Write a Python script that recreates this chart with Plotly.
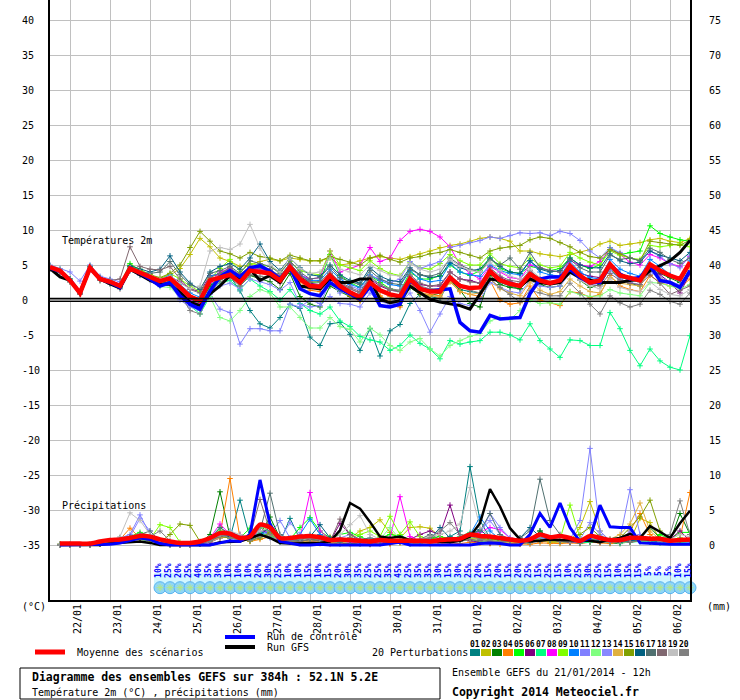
import plotly.graph_objects as go

# time axis: 6-hourly steps from 21/01/2014 12h up to +384h
steps = list(range(65))
rain_steps = list(range(1, 65))
date_steps = list(range(2, 64, 4))
date_labels = ["22/01", "23/01", "24/01", "25/01", "26/01", "27/01", "28/01", "29/01",
               "30/01", "31/01", "01/02", "02/02", "03/02", "04/02", "05/02", "06/02"]

# temperature 2m (C)
t_mean = [4.7, 4.2, 2.8, 1.0, 4.6, 3.0, 2.6, 2.0, 4.5, 3.9,
          3.3, 2.7, 3.1, 1.8, 0.5, -0.1, 2.8, 3.2, 3.6, 2.5,
          4.2, 4.0, 3.8, 2.8, 4.7, 3.0, 2.0, 1.9, 3.5, 2.0,
          1.1, 0.4, 2.5, 1.4, 0.8, 0.5, 3.0, 1.6, 1.2, 1.2,
          3.2, 2.0, 1.7, 1.8, 4.1, 2.8, 2.3, 2.0, 3.7, 2.8,
          2.4, 2.8, 4.9, 3.5, 2.5, 2.8, 5.1, 3.5, 3.1, 2.8,
          5.1, 4.2, 3.5, 3.0, 5.4]
t_control = [4.6, 4.1, 2.9, 1.0, 4.6, 3.0, 2.5, 1.8, 4.6, 3.8,
             3.0, 2.0, 2.5, 0.6, -0.6, -1.3, 1.3, 3.3, 4.2, 3.3,
             4.6, 4.9, 4.1, 3.0, 4.6, 1.6, 0.9, 0.6, 2.5, 1.6,
             0.9, 0.1, 1.9, -0.8, -1.0, -0.6, 2.8, 1.6, 1.3, 1.4,
             1.6, -3.2, -4.4, -4.6, -2.2, -2.7, -2.6, -2.5, 0.9, 3.0,
             3.3, 3.3, 4.4, 3.2, 2.5, 2.5, 5.1, 3.7, 3.0, 3.2,
             4.9, 2.8, 2.5, 1.8, 4.2]
t_gfs = [4.5, 3.3, 2.8, 1.0, 4.5, 3.0, 2.3, 1.7, 4.4, 3.6,
         2.8, 2.2, 2.3, 1.1, -0.3, -0.8, 0.9, 2.0, 3.5, 3.0,
         4.4, 2.8, 3.5, 2.5, 4.5, 2.0, 1.8, 1.6, 3.0, 2.5,
         2.5, 3.0, 3.0, 0.1, -0.4, -0.1, 2.0, 1.1, 0.1, -0.3,
         -0.6, -0.8, -1.3, 0.9, 3.0, 2.8, 2.3, 2.0, 3.0, 2.5,
         2.3, 2.5, 4.0, 3.2, 2.8, 2.5, 2.5, 2.5, 2.8, 3.0,
         4.2, 4.9, 5.6, 6.8, 8.5]

t01 = [4.6, 4.1, 2.6, 0.9, 4.5, 2.9, 2.4, 1.8, 4.4, 3.7, 3.1, 2.9, 3.4, 1.5, 0.2, -0.6, 2.2, 3.0, 3.4, 1.3,
       -1.5, -3.4, -4.0, -2.5, -0.6, -1.2, -5.3, -6.5, -3.4, -3.2, -4.9, -7.2, -4.1, -8.0, -4.4, -3.5, -0.5, 0.8, 0.5, 0.2,
       2.8, 1.5, 1.2, 1.0, 3.8, 2.5, 2.0, 1.6, 3.5, 2.5, 2.2, 2.6, 4.6, 3.2, 2.3, 2.5, 4.8, 3.3, 2.8, 2.6,
       4.9, 4.0, 3.3, 2.8, 5.0]
t02 = [4.8, 4.3, 2.9, 1.1, 4.7, 3.1, 2.7, 2.1, 4.8, 4.2, 3.6, 3.0, 3.5, 4.5, 6.5, 8.8, 7.6, 6.0, 5.5, 4.8,
       5.0, 5.5, 5.8, 5.6, 6.0, 5.8, 5.6, 5.6, 6.0, 5.0, 5.2, 5.6, 6.0, 6.2, 6.0, 5.8, 6.2, 6.6, 7.0, 7.5,
       7.8, 8.0, 8.4, 8.8, 9.0, 8.8, 8.4, 7.0, 7.0, 6.6, 6.4, 6.2, 6.5, 6.8, 7.2, 8.0, 8.4, 7.8, 8.0, 8.2,
       8.6, 8.8, 8.4, 8.2, 8.8]
t03 = [4.5, 4.0, 2.7, 0.9, 4.5, 2.8, 2.4, 1.8, 4.8, 4.0, 3.2, 2.4, 2.6, 1.0, 0.0, -0.4, 2.0, 3.0, 3.8, 2.0,
       3.5, 3.0, 2.6, 1.5, 3.8, 0.5, -0.6, -1.0, 2.0, 1.2, 0.5, 0.0, 2.0, 0.4, -0.4, -0.8, 1.8, 0.8, 0.6, 1.0,
       2.8, 1.4, -0.5, -1.0, 3.5, 2.2, 1.8, 1.6, 3.0, 2.2, 1.8, 2.0, 4.2, 2.8, 1.8, 2.2, 4.5, 3.0, 2.4, 2.0,
       4.8, 3.8, 3.2, 2.5, 5.0]
t04 = [4.4, 3.9, 2.6, 0.8, 4.4, 2.8, 2.3, 1.6, 4.3, 3.6, 3.0, 2.5, 2.9, 1.6, 0.4, 0.2, 2.5, 3.2, 4.0, 2.8,
       4.4, 4.2, 4.0, 2.6, 4.4, 2.6, 1.4, 1.2, 3.2, 1.8, 0.6, -0.2, 2.0, 0.6, -0.3, -1.0, 2.4, 1.0, 0.8, 0.6,
       2.6, 1.2, 0.8, 0.5, 2.8, 0.0, -0.6, -0.4, 2.0, 0.0, -0.4, -0.8, 1.2, 1.0, 0.4, 0.8, 3.5, 2.0, 1.5, 1.2,
       3.5, 2.5, 2.0, 1.8, 3.0]
t05 = [4.9, 4.4, 3.0, 1.2, 4.8, 3.2, 2.8, 2.2, 5.2, 4.2, 3.5, 2.8, 3.0, 1.4, 0.0, -0.5, 1.5, 3.8, 4.5, 3.0,
       4.6, 4.4, 4.0, 3.2, 5.0, 3.4, 2.5, 2.6, 6.5, 3.5, 2.5, 1.8, 3.5, 2.5, 1.6, 1.2, 4.0, 3.0, 3.0, 3.5,
       5.0, 4.0, 3.5, 4.2, 6.0, 4.5, 4.0, 3.8, 4.8, 4.5, 4.2, 4.5, 6.0, 5.0, 4.5, 5.0, 7.5, 6.5, 6.8, 7.0,
       10.6, 9.5, 9.0, 8.6, 8.4]
t06 = [4.6, 4.2, 2.8, 1.0, 4.5, 3.0, 2.5, 1.9, 4.6, 4.0, 3.4, 2.9, 3.3, 2.6, 1.6, 1.2, 3.5, 3.6, 4.0, 3.2,
       4.5, 4.4, 4.2, 3.0, 5.0, 3.4, 2.4, 2.2, 3.8, 2.4, 1.6, 1.0, 3.0, 2.0, 1.4, 1.2, 3.4, 2.2, 2.0, 2.0,
       4.0, 3.0, 2.8, 2.4, 4.2, 3.2, 2.6, 2.2, 4.0, 3.0, 2.6, 2.6, 4.6, 3.8, 3.4, 3.2, 5.0, 3.5, 3.0, 2.8,
       4.6, 3.6, 2.5, 1.0, 3.8]
t07 = [4.5, 4.1, 2.7, 0.9, 4.4, 2.9, 2.4, 1.7, 4.2, 3.6, 3.0, 2.3, 2.6, 1.2, -0.8, -2.0, 0.5, 2.4, 2.8, 1.5,
       3.0, 2.0, 1.2, 0.0, 1.5, -0.5, -1.5, -2.0, -1.0, -3.0, -3.8, -5.2, -5.7, -6.0, -7.2, -6.5, -5.0, -6.2, -7.0, -8.4,
       -5.8, -6.3, -6.0, -5.8, -4.6, -4.6, -5.0, -5.7, -3.4, -5.8, -7.0, -8.2, -5.7, -5.8, -6.5, -6.5, -1.8, -4.1, -7.2, -9.4,
       -7.0, -8.7, -9.6, -10.0, -5.1]
t08 = [4.8, 4.2, 2.8, 1.1, 4.6, 3.2, 2.8, 2.3, 4.4, 3.8, 3.2, 2.6, 3.0, 1.6, 0.0, -0.6, 2.5, 4.0, 4.5, 3.4,
       4.6, 4.3, 4.1, 3.5, 5.0, 3.6, 3.0, 3.2, 7.0, 4.0, 4.5, 5.0, 7.5, 5.5, 6.0, 8.5, 9.8, 10.1, 9.8, 9.0,
       7.6, 5.0, 3.8, 3.0, 4.8, 4.0, 3.2, 3.0, 5.0, 4.6, 4.2, 4.0, 5.6, 5.0, 4.8, 5.5, 7.2, 6.5, 5.4, 5.0,
       6.5, 6.0, 5.2, 4.8, 6.2]
t09 = [4.7, 4.3, 2.9, 1.1, 4.8, 3.1, 2.8, 2.2, 5.0, 4.4, 3.6, 3.0, 3.8, 3.0, 2.0, 1.2, 3.0, 4.5, 5.8, 4.0,
       5.2, 5.0, 4.8, 4.0, 5.5, 4.2, 3.8, 3.6, 7.0, 5.0, 4.6, 4.2, 5.6, 4.5, 3.8, 3.5, 5.4, 4.6, 4.4, 5.2,
       6.5, 5.6, 5.0, 5.0, 6.6, 5.2, 4.8, 4.6, 6.0, 5.0, 4.6, 4.8, 6.8, 6.0, 5.4, 5.0, 7.0, 6.4, 6.0, 5.8,
       7.8, 7.6, 7.8, 8.0, 7.6]
t10 = [4.6, 4.2, 2.9, 1.0, 4.7, 3.1, 2.7, 2.1, 4.7, 4.0, 3.4, 2.9, 3.6, 2.2, 1.0, 0.4, 3.4, 3.8, 4.2, 3.0,
       4.8, 4.6, 4.3, 3.4, 5.2, 3.6, 2.8, 2.8, 4.4, 3.0, 2.2, 1.8, 3.6, 2.8, 2.2, 2.0, 4.2, 3.0, 2.6, 2.8,
       5.2, 4.0, 3.6, 3.4, 5.0, 4.2, 3.8, 3.6, 5.6, 4.0, 3.6, 3.4, 5.5, 4.0, 3.2, 3.0, 5.8, 4.4, 3.8, 3.4,
       5.8, 4.8, 3.6, 2.8, 5.6]
t11 = [5.0, 4.5, 4.0, 2.7, 5.0, 3.4, 3.0, 2.6, 4.2, 3.8, 3.0, 2.2, 2.4, 0.6, -0.8, -1.0, 0.8, -1.3, -1.8, -6.3,
       -4.1, -4.1, -4.4, -4.4, -0.6, -1.0, 0.0, -0.5, 2.5, 1.0, 2.0, 1.5, 3.5, 3.0, 2.5, 3.0, 5.5, 4.5, 5.0, 5.5,
       7.5, 7.8, 8.2, 8.5, 9.0, 8.8, 9.2, 9.6, 9.5, 9.6, 9.2, 9.8, 9.5, 8.5, 7.0, 6.0, 7.5, 6.8, 6.0, 5.6,
       7.0, 6.2, 5.2, 4.6, 6.4]
t12 = [4.5, 4.0, 2.6, 0.8, 4.4, 2.8, 2.3, 1.7, 4.3, 3.6, 2.9, 1.9, 1.8, 0.4, -0.5, -1.5, 0.5, -2.5, -3.0, -1.5,
       0.5, 1.5, 1.0, -1.0, -1.0, -2.5, -4.0, -4.0, -2.5, -3.8, -4.2, -6.0, -4.0, -5.0, -6.5, -7.2, -6.0, -5.5, -7.0, -8.0,
       -6.5, -5.8, -5.2, -4.8, -3.0, -2.5, -2.8, -1.5, 0.0, -0.5, -0.4, -0.6, 1.2, 0.8, 0.5, 0.6, 1.5, 1.0, 0.8, 0.6,
       2.5, 2.4, 2.0, 1.6, 2.2]
t13 = [4.4, 4.0, 2.6, 0.8, 4.3, 2.8, 2.3, 1.6, 4.2, 3.5, 2.8, 2.0, 2.4, 0.0, -1.0, -1.5, 1.0, 2.0, 2.4, 1.6,
       3.0, 2.6, 2.2, 1.4, 2.5, -0.6, -1.0, -0.8, 0.5, -0.5, -0.6, -1.0, 1.0, -0.2, -0.6, -0.3, 1.0, -1.5, -4.6, -2.0,
       0.5, -0.5, -0.8, 0.0, 2.5, 1.8, 1.2, 1.0, 2.8, 2.0, 1.8, 2.0, 3.8, 3.0, 2.4, 2.6, 4.2, 3.0, 2.5, 2.2,
       4.0, 3.2, 2.6, 2.2, 4.2]
t14 = [4.6, 4.1, 2.8, 1.0, 4.5, 2.9, 2.5, 1.9, 4.4, 3.8, 3.2, 2.6, 3.0, 1.8, 0.6, 0.2, 3.0, 3.4, 3.8, 2.8,
       4.4, 4.1, 3.9, 2.9, 4.8, 3.1, 2.0, 2.0, 3.6, 2.0, 1.0, 0.2, 2.6, 1.2, 0.5, -0.4, 2.8, 1.2, 0.6, 0.4,
       2.6, 1.2, 0.8, 1.0, 3.0, 1.6, 1.0, 0.6, 2.6, 1.4, 0.8, 1.2, 3.0, 2.0, 1.2, 1.0, 3.2, 2.4, 2.2, 2.0,
       4.4, 3.0, 2.4, 2.0, 4.6]
t15 = [4.7, 4.2, 2.9, 1.1, 4.7, 3.1, 2.6, 2.0, 4.8, 4.2, 3.6, 3.2, 3.8, 5.0, 7.5, 9.8, 8.4, 7.0, 6.6, 6.0,
       6.8, 6.2, 6.0, 5.6, 6.4, 6.0, 5.6, 5.6, 6.2, 5.8, 5.4, 5.0, 6.0, 6.4, 5.8, 5.4, 6.0, 6.2, 6.6, 6.8,
       7.2, 6.8, 6.4, 6.0, 7.0, 7.4, 7.6, 7.8, 8.6, 9.0, 8.8, 8.2, 7.6, 6.8, 6.2, 6.0, 7.2, 6.6, 6.0, 5.6,
       8.4, 8.2, 8.0, 7.8, 8.6]
t16 = [4.8, 4.3, 3.0, 1.1, 4.8, 3.2, 2.8, 2.2, 4.9, 4.4, 4.0, 4.4, 6.3, 4.0, 2.4, 1.5, 4.0, 4.8, 5.2, 4.4,
       6.0, 8.0, 5.5, 4.2, 6.0, 4.6, 3.6, 3.4, 5.0, 3.6, 2.8, 2.4, 4.6, 3.4, 2.8, 2.6, 4.6, 3.6, 3.2, 3.4,
       5.4, 4.6, 4.2, 4.4, 6.0, 4.8, 4.0, 3.8, 5.6, 4.4, 4.0, 4.2, 6.0, 5.0, 4.6, 4.6, 6.6, 5.6, 5.2, 5.4,
       7.0, 6.4, 6.0, 5.6, 6.8]
t17 = [4.6, 4.2, 2.8, 1.0, 4.6, 3.0, 2.6, 2.0, 4.6, 4.0, 3.8, 4.0, 5.5, 3.6, 2.2, 1.6, 3.8, 4.2, 4.8, 3.8,
       5.6, 5.2, 4.8, 3.8, 5.6, 4.0, 3.0, 3.2, 4.8, 3.2, 2.6, 2.2, 4.2, 3.0, 2.4, 2.2, 4.4, 3.6, 3.4, 3.8,
       6.0, 5.0, 4.4, 4.0, 5.8, 5.0, 6.0, 4.4, 6.8, 4.6, 4.2, 4.0, 5.8, 4.6, 4.0, 4.0, 6.4, 5.8, 6.0, 5.6,
       7.4, 6.8, 5.8, 5.2, 6.0]
t18 = [4.7, 4.2, 2.8, 1.0, 4.6, 3.0, 2.8, 3.0, 7.6, 4.8, 4.4, 4.3, 4.8, 3.0, 1.5, 1.0, 3.2, 3.8, 4.6, 3.6,
       4.8, 4.6, 4.4, 3.4, 5.2, 3.6, 2.6, 2.6, 4.0, 2.6, 1.8, 1.2, 3.2, 2.2, 1.4, 1.2, 3.6, 2.4, 2.0, 2.2,
       4.0, 3.0, 2.6, 2.4, 4.6, 3.4, 2.8, 2.6, 4.2, 3.0, 2.6, 2.8, 4.4, 3.0, 2.2, 2.0, 3.8, 2.8, 2.4, 2.2,
       3.6, 2.4, 0.8, 1.4, 2.0]
t19 = [4.8, 4.3, 2.9, 1.1, 4.7, 3.1, 2.7, 2.1, 4.6, 4.0, 3.5, 3.0, 3.4, 2.4, 1.6, 2.0, 7.0, 7.5, 7.2, 8.0,
       10.8, 7.4, 5.0, 4.0, 6.0, 4.5, 3.8, 4.0, 6.0, 4.4, 4.0, 3.6, 5.0, 4.2, 3.6, 3.4, 5.2, 4.4, 4.0, 4.4,
       5.8, 4.8, 4.2, 4.0, 5.4, 4.2, 3.4, 3.0, 4.4, 3.2, 2.8, 2.6, 4.0, 2.8, 2.0, 1.6, 3.0, 1.8, 1.4, 1.2,
       2.6, 1.5, 0.8, 0.6, 1.5]
t20 = [4.5, 4.0, 2.6, 0.8, 4.4, 2.8, 2.4, 1.8, 4.3, 3.6, 3.0, 2.2, 2.2, 0.8, -1.5, -2.0, 1.2, 2.6, 3.2, 2.0,
       3.6, 3.4, 3.2, 2.4, 4.4, 3.0, 2.2, 2.2, 3.8, 2.4, 1.6, 1.0, 3.4, 2.2, 1.6, 1.4, 3.4, 2.0, 1.6, 1.6,
       3.4, 2.0, 1.4, 1.0, 3.0, 1.8, 0.8, -0.3, 1.4, 1.0, 0.6, 0.6, 2.4, 1.0, -0.6, -2.0, 0.6, -0.4, -1.0, -0.6,
       1.4, 0.8, -0.2, -0.6, 1.0]

# precipitation per 6h (mm)
r_mean = [0.2, 0.2, 0.2, 0.2, 0.5, 0.7, 0.8, 1.0, 1.3, 1.2, 0.8, 0.5, 0.3, 0.3, 0.5, 1.0, 1.7, 1.6, 1.0, 1.2,
          2.9, 2.5, 1.0, 1.0, 1.2, 1.3, 1.1, 0.7, 0.8, 0.7, 0.6, 0.5, 0.7, 0.6, 0.6, 0.6, 0.6, 0.5, 0.7, 0.8,
          0.9, 1.5, 1.3, 1.2, 1.0, 0.8, 0.6, 0.8, 1.5, 1.1, 1.3, 1.0, 0.6, 1.3, 1.0, 0.7, 0.7, 1.0, 1.0, 0.9,
          0.9, 0.6, 0.7, 0.8]
r_control = [0, 0, 0, 0, 0, 0.1, 0.3, 0.6, 1.0, 0.8, 0.2, 0, 0, 0, 0, 0, 0.3, 0.6, 0.5, 1.5,
             9.3, 3.0, 0.5, 0.2, 0, 0, 0.1, 0, 0, 0, 0, 0, 0, 0.2, 0.4, 0, 0, 0, 0, 0,
             0, 0, 0.2, 0.3, 0.2, 0, 0, 1.5, 4.5, 2.5, 6.0, 2.5, 0.5, 1.0, 5.7, 2.6, 2.5, 2.5, 0.3, 0.2,
             0.2, 0.1, 0.1, 0.1]
r_gfs = [0, 0, 0, 0, 0, 0.2, 0.3, 0.3, 0.5, 0.3, 0, 0, 0, 0, 0, 0, 0.4, 0.5, 0.5, 1.0,
         1.5, 1.0, 0.3, 0.2, 0.2, 0.3, 0.3, 0.5, 2.1, 6.0, 5.2, 3.3, 1.2, 1.0, 1.2, 0.7, 0.6, 0.5, 0.4, 0.4,
         0.6, 1.2, 3.1, 8.0, 5.5, 2.4, 0.8, 0.5, 0.6, 0.8, 0.7, 0.7, 0.6, 0.6, 0.4, 0.8, 1.0, 1.6, 1.0, 2.7,
         1.9, 1.0, 3.1, 4.9]

r01 = [0.1, 0.1, 0, 0, 0.2, 0.4, 0.6, 0.8, 1.4, 1.0, 0.3, 0, 0, 0, 0.2, 0.6, 1.5, 1.0, 6.4, 1.0,
       2.0, 1.5, 0.4, 3.8, 0.8, 0.5, 0.6, 0.4, 0.2, 0.3, 0.2, 0.1, 0.3, 0.5, 0.4, 0.2, 0.3, 0.4, 0.8, 1.2,
       2.0, 11.2, 3.5, 1.0, 0.6, 0.4, 0.2, 0.3, 2.0, 0.8, 0.6, 0.4, 0.3, 0.5, 0.8, 0.6, 0.3, 0.8, 0.5, 0.4,
       0.3, 0.5, 0.6, 0.4]
r02 = [0, 0, 0, 0.1, 0.3, 0.5, 0.7, 1.0, 1.5, 1.2, 0.6, 0.2, 0, 0, 0.3, 0.8, 1.2, 1.5, 1.0, 0.8,
       2.5, 2.0, 1.0, 0.6, 0.8, 1.0, 1.5, 1.2, 0.8, 1.0, 2.0, 2.5, 3.6, 1.8, 1.0, 2.5, 2.6, 2.4, 1.2, 0.8,
       0.6, 1.5, 1.0, 0.5, 0.4, 0.3, 0.2, 0.5, 0.6, 0.4, 0.3, 0.5, 2.5, 6.2, 2.0, 0.5, 0.4, 0.6, 3.8, 3.2,
       0.8, 0.5, 0.4, 0.3]
r03 = [0.1, 0, 0, 0, 0.2, 0.5, 0.8, 1.0, 1.2, 0.8, 0.4, 0.1, 0, 0, 0.2, 1.5, 7.6, 1.2, 0.8, 0.6,
       1.5, 4.0, 1.0, 0.5, 0.4, 0.6, 0.5, 0.3, 0.2, 0.3, 0.2, 0.1, 0.2, 0.3, 0.4, 0.2, 0.6, 0.8, 0.5, 0.4,
       0.6, 0.8, 0.5, 0.3, 0.4, 0.6, 0.3, 0.5, 2.0, 1.0, 0.6, 0.4, 0.3, 0.4, 0.5, 0.3, 0.2, 0.8, 1.2, 2.5,
       1.0, 0.6, 4.5, 1.5]
r04 = [0.1, 0, 0, 0, 0.2, 0.4, 0.8, 2.4, 1.0, 0.6, 0.3, 0.1, 0, 0, 0.2, 0.6, 1.5, 9.5, 1.0, 0.5,
       0.8, 1.2, 0.6, 0.4, 0.2, 0.3, 0.2, 0.1, 0.2, 0.1, 0.2, 0.1, 0.2, 0.1, 0.3, 0.2, 0.2, 0.1, 0.2, 0.3,
       0.2, 0.4, 0.3, 0.2, 0.1, 0.2, 0.1, 0.1, 0.3, 0.2, 0.2, 0.3, 0.2, 0.4, 0.3, 0.2, 0.5, 2.0, 4.5, 1.5,
       0.6, 0.4, 1.0, 7.5]
r05 = [0, 0, 0, 0, 0.3, 0.6, 1.0, 1.2, 1.8, 1.3, 0.5, 0.2, 0, 0, 0.3, 0.8, 2.0, 1.2, 1.0, 2.4,
       1.5, 3.0, 1.2, 0.8, 2.5, 3.9, 2.0, 1.0, 1.5, 1.8, 1.2, 0.6, 1.0, 1.5, 1.2, 0.8, 0.6, 1.0, 1.2, 0.9,
       0.6, 0.8, 1.2, 1.0, 0.8, 0.6, 0.8, 0.5, 0.6, 0.8, 0.5, 0.4, 0.6, 0.8, 0.5, 0.6, 0.4, 0.5, 0.8, 0.6,
       1.5, 0.8, 1.8, 1.8]
r06 = [0, 0, 0, 0, 0.2, 0.4, 0.6, 0.8, 1.0, 0.8, 0.3, 0.1, 0, 0, 0.2, 0.4, 1.0, 1.2, 1.5, 1.0,
       2.5, 1.5, 0.6, 0.4, 0.5, 0.6, 0.4, 0.5, 3.1, 1.5, 0.6, 0.4, 0.5, 0.3, 0.4, 0.8, 1.5, 2.0, 1.5, 5.7,
       1.0, 0.6, 0.4, 0.3, 0.5, 0.4, 0.3, 0.4, 1.2, 0.8, 0.5, 0.4, 0.3, 0.6, 0.5, 0.4, 0.3, 0.4, 0.6, 0.5,
       0.4, 0.8, 2.0, 0.6]
r07 = [0, 0, 0, 0, 0.2, 0.5, 0.8, 1.0, 0.8, 0.6, 0.3, 0.1, 0, 0, 0.2, 1.0, 2.5, 1.5, 1.0, 0.8,
       1.8, 1.2, 0.8, 0.6, 1.2, 1.5, 0.8, 0.6, 0.5, 0.4, 0.3, 0.2, 0.5, 0.8, 1.5, 0.6, 0.4, 0.5, 0.6, 0.8,
       1.2, 1.8, 1.2, 0.6, 0.4, 0.8, 0.6, 0.4, 1.0, 0.6, 0.8, 0.5, 0.3, 0.4, 0.6, 0.5, 0.3, 0.4, 0.5, 0.4,
       0.6, 0.5, 0.4, 0.3]
r08 = [0, 0, 0, 0, 0.2, 0.6, 0.8, 1.0, 1.2, 0.9, 0.4, 0.1, 0, 0, 0.3, 1.0, 3.0, 1.5, 1.2, 1.0,
       2.0, 1.8, 1.0, 0.6, 1.0, 7.5, 2.0, 0.8, 0.5, 0.4, 0.3, 0.2, 0.4, 1.0, 6.9, 1.2, 0.6, 0.5, 0.4, 0.6,
       0.8, 1.2, 1.8, 2.5, 2.2, 1.0, 0.8, 0.6, 1.2, 0.8, 0.6, 0.5, 0.4, 0.6, 0.5, 0.4, 0.6, 1.5, 1.2, 0.8,
       0.5, 0.6, 0.8, 0.5]
r09 = [0, 0, 0, 0, 0.3, 0.6, 1.0, 1.2, 1.0, 0.8, 2.9, 2.5, 0.4, 0, 0.3, 0.8, 1.5, 1.0, 0.8, 0.6,
       1.2, 1.5, 1.0, 0.6, 0.8, 1.2, 0.8, 0.6, 0.8, 1.0, 1.5, 2.0, 1.2, 4.1, 1.5, 3.3, 1.2, 0.8, 0.6, 0.8,
       0.6, 1.0, 0.8, 0.6, 0.5, 0.6, 0.4, 0.6, 0.8, 0.6, 0.8, 5.7, 1.0, 0.6, 0.5, 0.4, 0.6, 0.5, 0.8, 0.6,
       0.5, 0.6, 1.0, 0.8]
r10 = [0, 0, 0, 0, 0.2, 0.5, 0.7, 0.9, 1.2, 1.5, 0.6, 0.2, 0, 0, 0.2, 0.6, 1.5, 2.0, 1.2, 0.8,
       1.5, 2.0, 0.8, 0.6, 1.5, 3.7, 1.5, 0.8, 0.6, 0.5, 0.4, 0.3, 0.6, 0.8, 0.6, 0.5, 0.4, 0.6, 0.5, 0.8,
       1.0, 1.5, 4.0, 2.0, 0.8, 0.6, 0.5, 0.8, 1.5, 1.0, 0.6, 0.8, 0.5, 0.6, 0.8, 0.5, 0.4, 0.6, 0.8, 0.6,
       0.5, 0.4, 0.6, 0.5]
r11 = [0, 0, 0, 0, 0.3, 0.6, 1.0, 1.5, 4.3, 1.5, 0.6, 0.2, 0, 0, 0.2, 0.8, 1.5, 1.2, 1.0, 1.5,
       2.0, 1.5, 3.5, 1.0, 0.8, 1.5, 1.0, 0.6, 0.8, 1.0, 0.6, 0.4, 0.8, 0.6, 0.5, 0.4, 0.6, 0.8, 0.6, 0.5,
       0.8, 1.2, 1.5, 4.5, 2.5, 1.0, 0.8, 0.6, 1.0, 0.8, 1.2, 0.8, 3.5, 13.8, 2.0, 0.6, 1.0, 7.9, 1.5, 0.8,
       0.5, 0.6, 0.8, 0.5]
r12 = [0, 0, 0, 0, 0.2, 0.4, 0.8, 1.0, 1.2, 1.0, 0.4, 0.1, 0, 0, 0.2, 0.6, 1.2, 1.0, 0.8, 1.2,
       2.5, 1.8, 0.8, 0.6, 0.5, 0.8, 0.6, 0.4, 0.5, 0.6, 0.4, 0.3, 0.8, 2.5, 0.8, 0.5, 0.4, 0.6, 0.5, 0.4,
       0.6, 0.8, 0.6, 0.4, 0.5, 0.4, 0.3, 0.5, 0.8, 0.6, 0.4, 0.5, 0.6, 0.8, 0.5, 0.4, 0.3, 0.4, 0.6, 0.5,
       0.4, 0.6, 0.5, 0.4]
r13 = [0, 0, 0, 0, 0.3, 0.5, 0.8, 1.2, 3.8, 2.0, 0.5, 0.1, 0, 0, 0.2, 0.5, 1.0, 1.5, 1.0, 0.8,
       1.5, 1.0, 0.8, 3.2, 1.5, 1.0, 0.8, 0.6, 1.0, 1.5, 0.8, 0.5, 0.6, 0.5, 0.4, 0.3, 0.5, 0.6, 0.8, 0.6,
       1.0, 1.5, 2.0, 3.5, 1.5, 0.8, 0.6, 0.5, 0.8, 0.6, 0.5, 0.6, 0.8, 3.2, 1.5, 0.6, 0.5, 2.0, 1.0, 0.6,
       0.5, 0.4, 0.5, 0.4]
r14 = [0, 0, 0, 0, 0.2, 0.4, 0.6, 0.8, 1.0, 0.8, 0.3, 0.1, 0, 0, 0.2, 0.5, 1.0, 1.2, 0.8, 0.6,
       1.2, 1.5, 0.6, 0.5, 0.4, 0.6, 0.5, 0.4, 0.3, 0.5, 0.4, 0.3, 0.5, 0.4, 0.3, 0.5, 0.4, 0.3, 0.4, 0.5,
       0.6, 0.8, 1.0, 0.6, 0.5, 0.4, 0.3, 0.5, 0.6, 0.5, 0.4, 0.5, 0.6, 0.8, 0.6, 0.8, 1.5, 3.0, 6.0, 2.0,
       0.8, 0.6, 0.5, 0.6]
r15 = [0, 0, 0, 0, 0.2, 0.5, 0.8, 1.0, 0.8, 0.6, 0.4, 1.5, 3.0, 2.8, 0.5, 0.8, 1.2, 1.0, 0.8, 0.6,
       1.0, 1.8, 0.8, 0.6, 0.5, 0.8, 0.6, 0.5, 0.6, 0.8, 0.5, 0.4, 0.6, 0.8, 0.6, 0.5, 0.8, 1.0, 0.8, 0.6,
       0.8, 1.5, 1.0, 0.8, 0.6, 0.5, 0.4, 0.6, 0.8, 0.6, 0.5, 0.6, 1.5, 2.5, 1.2, 0.8, 1.0, 2.5, 4.0, 6.4,
       2.0, 0.8, 0.6, 0.5]
r16 = [0, 0, 0, 0, 0.2, 0.4, 0.8, 1.0, 1.5, 1.2, 0.4, 0.1, 0, 0, 0.2, 0.6, 1.5, 1.2, 1.0, 0.8,
       1.5, 2.5, 1.0, 0.6, 0.8, 1.2, 2.9, 1.0, 0.8, 0.6, 0.4, 0.3, 0.5, 0.6, 0.5, 0.4, 0.6, 0.8, 2.5, 1.0,
       0.8, 1.5, 2.2, 1.0, 0.8, 0.6, 1.0, 2.5, 1.2, 0.8, 0.6, 0.5, 0.6, 0.8, 0.6, 0.5, 0.4, 0.6, 0.8, 0.6,
       0.5, 0.6, 0.8, 0.6]
r17 = [0, 0, 0, 0, 0.2, 0.4, 1.0, 1.2, 1.5, 2.0, 0.6, 0.2, 0, 0, 0.2, 0.8, 2.5, 1.5, 1.0, 1.2,
       2.0, 7.4, 1.5, 0.8, 0.6, 0.8, 0.6, 0.5, 0.4, 0.6, 0.8, 1.0, 0.8, 0.5, 0.4, 0.6, 0.8, 1.5, 0.8, 0.6,
       1.0, 1.5, 2.0, 4.5, 1.5, 0.8, 1.0, 2.0, 9.4, 3.5, 1.5, 0.8, 0.6, 0.8, 1.0, 0.8, 0.6, 0.8, 1.0, 0.8,
       0.6, 0.5, 0.6, 0.8]
r18 = [0, 0, 0, 0, 0.3, 0.6, 0.8, 1.0, 1.2, 0.8, 0.4, 0.1, 0, 0, 0.2, 0.6, 1.2, 1.5, 1.0, 1.2,
       6.5, 2.0, 1.0, 0.6, 0.5, 0.8, 0.6, 0.5, 3.7, 1.5, 0.8, 0.5, 0.6, 0.8, 0.6, 0.5, 0.4, 0.6, 0.8, 0.6,
       0.5, 0.8, 0.6, 0.5, 0.4, 0.6, 0.5, 0.4, 0.6, 0.8, 0.5, 0.4, 0.6, 0.5, 0.4, 0.6, 0.5, 0.4, 0.6, 0.8,
       0.5, 0.6, 0.8, 0.6]
r19 = [0, 0, 0, 0, 0.3, 0.6, 1.2, 4.6, 3.5, 1.5, 0.6, 0.2, 0, 0, 0.2, 0.8, 1.5, 2.0, 1.5, 1.2,
       2.0, 2.5, 1.2, 0.8, 1.0, 1.2, 0.8, 0.6, 1.5, 2.9, 4.2, 1.5, 0.8, 0.6, 0.5, 0.6, 0.8, 1.2, 1.5, 2.0,
       3.0, 8.2, 2.5, 1.2, 1.0, 0.8, 0.6, 0.8, 1.2, 1.0, 0.8, 0.6, 0.8, 1.2, 1.0, 0.8, 0.6, 0.8, 1.0, 0.8,
       0.6, 0.8, 1.5, 1.2]
r20 = [0, 0, 0, 0, 0.2, 0.5, 0.8, 1.0, 1.6, 1.2, 2.0, 0.6, 0, 0, 0.2, 0.6, 1.5, 1.0, 0.8, 0.6,
       1.2, 1.5, 0.8, 0.6, 0.8, 1.0, 0.8, 0.6, 0.8, 1.0, 0.8, 0.6, 1.0, 0.8, 0.6, 0.5, 0.8, 1.0, 2.0, 3.2,
       1.5, 1.2, 0.8, 0.6, 0.5, 0.6, 0.5, 0.4, 0.6, 0.8, 0.6, 0.5, 0.4, 0.6, 0.5, 0.4, 0.6, 0.8, 1.0, 0.8,
       0.6, 1.5, 6.3, 1.5]

# probability of precipitation (%) for steps 11..64
prob_steps = list(range(11, 65))
prob = [10, 25, 20, 25, 40, 35, 30, 10, 10, 10, 20, 30, 25, 10, 10, 15, 10, 15, 20, 30,
        35, 25, 25, 35, 45, 25, 35, 35, 30, 15, 30, 25, 20, 15, 20, 15, 20, 25, 15, 25,
        15, 10, 25, 30, 25, 15, 10, 15, 15, 5, 5, 5, 10, 15]

pert_names = ["01", "02", "03", "04", "05", "06", "07", "08", "09", "10",
              "11", "12", "13", "14", "15", "16", "17", "18", "19", "20"]
pert_colors = ["#008080", "#c0c000", "#008000", "#ff8000", "#00ff00", "#800080", "#00ff80",
               "#ff00ff", "#80ff00", "#0080ff", "#8080ff", "#80ff80", "#8888ff", "#e0b040",
               "#80a000", "#006080", "#507070", "#806870", "#c0c0c0", "#808080"]
temp_perts = [t01, t02, t03, t04, t05, t06, t07, t08, t09, t10,
              t11, t12, t13, t14, t15, t16, t17, t18, t19, t20]
rain_perts = [r01, r02, r03, r04, r05, r06, r07, r08, r09, r10,
              r11, r12, r13, r14, r15, r16, r17, r18, r19, r20]

FONT = "DejaVu Sans Mono"
YMAX = 300 / 7  # plot spans 600px at 7px per unit


# pixel helpers for the decorations outside the plot area
def px_x(px):
    return (px - 50) / 640


def px_y(py):
    return (600 - py) / 600


fig = go.Figure()

# perturbations
for name, col, tv, rv in zip(pert_names, pert_colors, temp_perts, rain_perts):
    fig.add_trace(go.Scatter(x=steps, y=tv, mode="lines+markers", line=dict(color=col, width=1),
                             marker=dict(symbol="cross-thin", size=4, line=dict(width=1, color=col)),
                             name=name))
    fig.add_trace(go.Scatter(x=rain_steps, y=rv, yaxis="y2", mode="lines+markers",
                             line=dict(color=col, width=1),
                             marker=dict(symbol="cross-thin", size=4, line=dict(width=1, color=col)),
                             name=name))

# GFS run, control run, mean
fig.add_trace(go.Scatter(x=steps, y=t_gfs, mode="lines", line=dict(color="black", width=3)))
fig.add_trace(go.Scatter(x=rain_steps, y=r_gfs, yaxis="y2", mode="lines", line=dict(color="black", width=2.5)))
fig.add_trace(go.Scatter(x=steps, y=t_control, mode="lines", line=dict(color="#0000ff", width=3.5)))
fig.add_trace(go.Scatter(x=rain_steps, y=r_control, yaxis="y2", mode="lines", line=dict(color="#0000ff", width=3)))
fig.add_trace(go.Scatter(x=steps, y=t_mean, mode="lines", line=dict(color="#ff0000", width=4.5)))
fig.add_trace(go.Scatter(x=rain_steps, y=r_mean, yaxis="y2", mode="lines",
                         line=dict(color="#ff0000", width=4.5, shape="spline", smoothing=0.7)))

# precipitation probability row
fig.add_trace(go.Scatter(x=prob_steps, y=[-41.1] * len(prob_steps), mode="markers", cliponaxis=False,
                         marker=dict(symbol="circle", size=12, color="#8fd6f6",
                                     line=dict(width=1, color="#5ab4ee"))))
fig.add_trace(go.Scatter(x=prob_steps, y=[-41.1] * len(prob_steps), mode="markers", cliponaxis=False,
                         marker=dict(symbol="asterisk-open", size=6, line=dict(width=1, color="#3c8ee8"))))

shapes = [
    dict(type="line", xref="paper", yref="y", x0=0, x1=1, y0=0.2, y1=0.2, line=dict(color="black", width=1.6)),
    dict(type="line", xref="paper", yref="y", x0=0, x1=1, y0=-0.2, y1=-0.2, line=dict(color="black", width=1.2)),
    dict(type="rect", xref="x", yref="y", x0=10.4, x1=64.5, y0=-41.0, y1=-39.0, layer="below",
         fillcolor="#d2f6ff", line=dict(width=0)),
    # legend lines
    dict(type="line", xref="paper", yref="paper", x0=px_x(35), x1=px_x(65), y0=px_y(652), y1=px_y(652),
         line=dict(color="#ff0000", width=5)),
    dict(type="line", xref="paper", yref="paper", x0=px_x(225), x1=px_x(255), y0=px_y(637), y1=px_y(637),
         line=dict(color="#0000ff", width=4)),
    dict(type="line", xref="paper", yref="paper", x0=px_x(225), x1=px_x(255), y0=px_y(647), y1=px_y(647),
         line=dict(color="black", width=4)),
    # bottom title box
    dict(type="rect", xref="paper", yref="paper", x0=px_x(20), x1=px_x(440), y0=px_y(668), y1=px_y(699),
         line=dict(color="black", width=1), fillcolor="white"),
]
for k, col in enumerate(pert_colors):
    x0 = 470 + 11 * k
    shapes.append(dict(type="rect", xref="paper", yref="paper", x0=px_x(x0), x1=px_x(x0 + 10),
                       y0=px_y(656), y1=px_y(649), fillcolor=col, line=dict(width=0)))

annotations = []
# left temperature labels (left aligned)
for v in range(-35, 45, 5):
    annotations.append(dict(x=px_x(20), xref="paper", y=v, yref="y", text=str(v), showarrow=False,
                            xanchor="left", yanchor="middle", font=dict(size=10)))
# date labels
for s, lab in zip(date_steps, date_labels):
    annotations.append(dict(x=s, xref="x", y=0, yref="paper", text=lab, textangle=-90, showarrow=False,
                            xanchor="center", yanchor="top", xshift=7, yshift=-2, font=dict(size=10)))
# probability labels
for s, p in zip(prob_steps, prob):
    annotations.append(dict(x=s, xref="x", y=-38.7, yref="y", text="<b>%d%%</b>" % p, textangle=-90,
                            showarrow=False, xanchor="center", yanchor="middle", xshift=-1,
                            font=dict(size=8, color="#0000ff")))
# perturbation numbers
for k, name in enumerate(pert_names):
    annotations.append(dict(x=px_x(470 + 11 * k + 5), xref="paper", y=px_y(644), yref="paper",
                            text="<b>%s</b>" % name, showarrow=False, xanchor="center", yanchor="middle",
                            font=dict(size=8)))

texts = [
    (60, 240, "Températures 2m", 10, False),
    (60, 505, "Précipitations", 10, False),
    (20, 606, "(°C)", 10, False),
    (705, 606, "(mm)", 10, False),
    (75, 652, "Moyenne des scénarios", 10, False),
    (265, 636, "Run de contrôle", 10, False),
    (265, 647, "Run GFS", 10, False),
    (370, 652, "20 Perturbations", 10, False),
    (30, 677, "Diagramme des ensembles GEFS sur 384h : 52.1N 5.2E", 11.5, True),
    (30, 692, "Température 2m (°C) , précipitations (mm)", 10, False),
    (450, 672, "Ensemble GEFS du 21/01/2014 - 12h", 10, False),
    (450, 692, "Copyright 2014 Meteociel.fr", 11.5, True),
]
for x, y, t, sz, bold in texts:
    annotations.append(dict(x=px_x(x), xref="paper", y=px_y(y), yref="paper",
                            text="<b>%s</b>" % t if bold else t, showarrow=False,
                            xanchor="left", yanchor="middle", font=dict(size=sz)))

fig.update_layout(
    width=740, height=700,
    margin=dict(l=50, r=50, t=0, b=100),
    plot_bgcolor="white", paper_bgcolor="white",
    showlegend=False,
    font=dict(family=FONT, size=10, color="black"),
    xaxis=dict(range=[0, 64], tickvals=date_steps, showticklabels=False, showgrid=True,
               gridcolor="#c0c0c0", gridwidth=1, showline=True, linecolor="black", linewidth=2,
               zeroline=False, ticks=""),
    yaxis=dict(range=[-YMAX, YMAX], tickvals=list(range(-35, 45, 5)), showticklabels=False,
               showgrid=True, gridcolor="#c0c0c0", gridwidth=1, showline=True, linecolor="black",
               linewidth=2, zeroline=False, ticks=""),
    yaxis2=dict(range=[-YMAX + 35, YMAX + 35], overlaying="y", side="right",
                tickvals=list(range(0, 80, 5)), showgrid=False, showline=True, linecolor="black",
                linewidth=2, zeroline=False, ticks="", ticklabelstandoff=15,
                tickfont=dict(family=FONT, size=10)),
    shapes=shapes,
    annotations=annotations,
)

# drop the default page margin so the figure sits at the window's corner
fig.write_html("out.html", config={"displayModeBar": False},
               post_script="document.body.style.margin='0';document.body.style.overflow='hidden';")
